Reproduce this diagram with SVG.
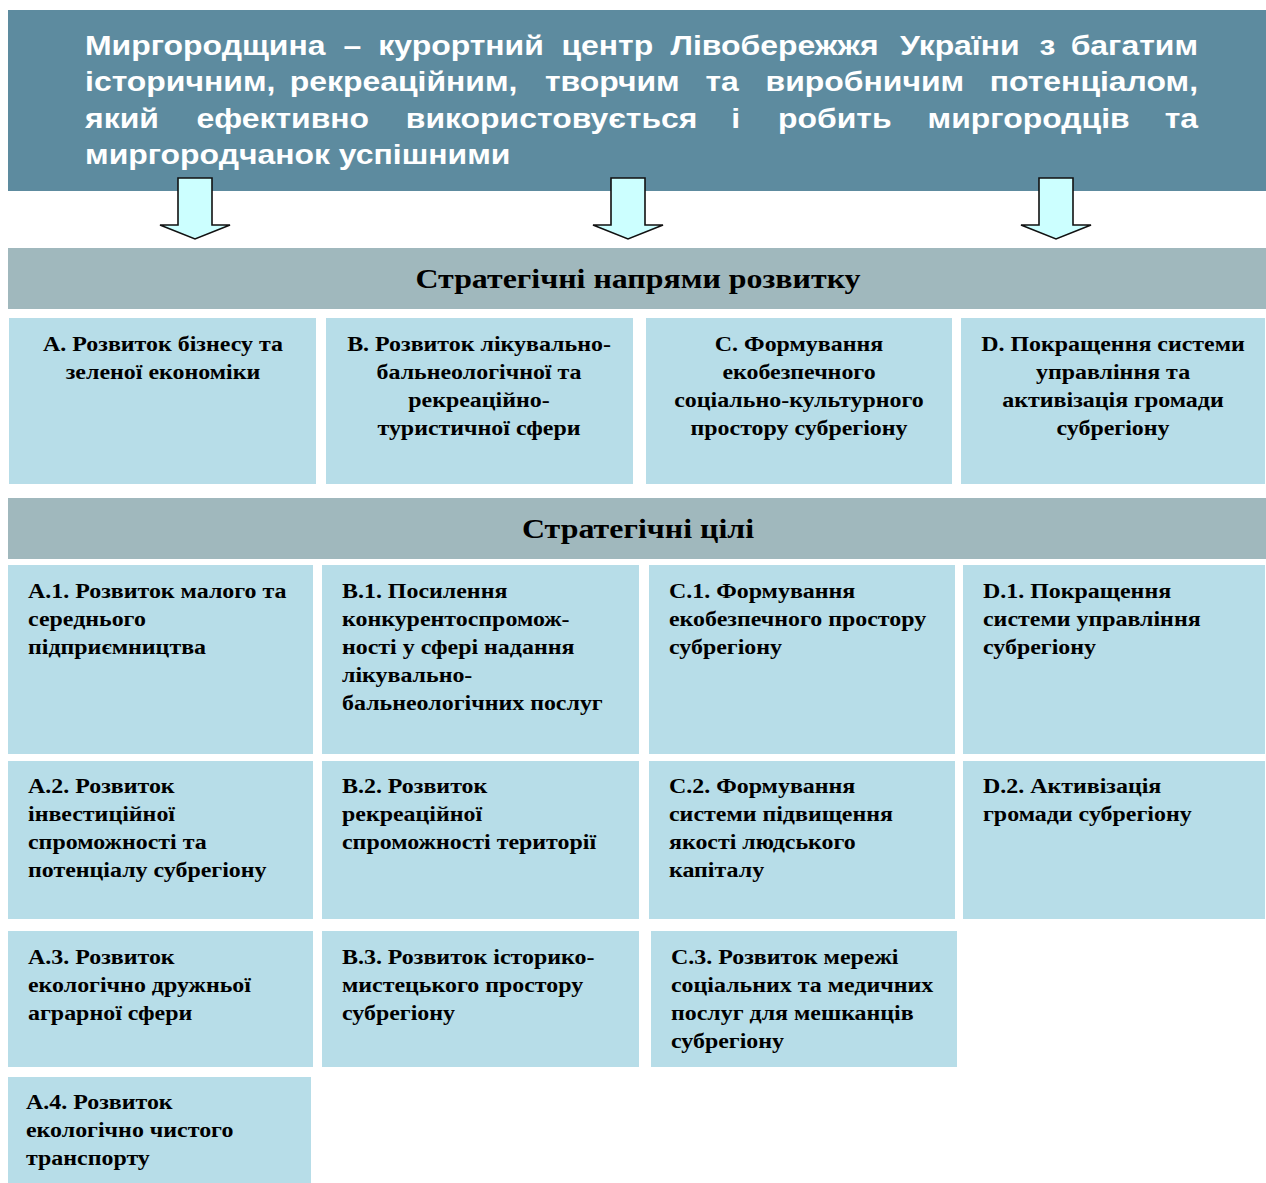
<svg xmlns="http://www.w3.org/2000/svg" width="1266" height="1183" viewBox="0 0 1266 1183">
<style>
.banner{fill:#5D8B9F}
.bar{fill:#A0B8BD}
.box{fill:#B7DDE8}
.arrow{fill:#CCFFFF;stroke:#111;stroke-width:1.6;stroke-linejoin:miter}
.vt{font-family:"Liberation Sans",Arial,sans-serif;font-weight:bold;font-size:28px;fill:#fff}
.ve{text-anchor:end}
.ht{font-family:"Liberation Serif","Times New Roman",serif;font-weight:bold;font-size:28px;fill:#000;text-anchor:middle}
.ct{font-family:"Liberation Serif","Times New Roman",serif;font-weight:bold;font-size:21px;fill:#000;text-anchor:middle}
.lt{font-family:"Liberation Serif","Times New Roman",serif;font-weight:bold;font-size:21px;fill:#000}
</style>
<rect width="1266" height="1183" fill="#fff"/>
<g id="vision">
<rect class="banner" x="8" y="10" width="1258" height="181"/>
<g transform="scale(1.14,1)">
<text class="vt" y="55"><tspan x="74.6">Миргородщина</tspan><tspan x="301.3">–</tspan><tspan x="331.9">курортний</tspan><tspan x="492.5">центр</tspan><tspan x="588.2">Лівобережжя</tspan><tspan x="789.5">України</tspan><tspan x="911.9">з</tspan></text>
<text class="vt ve" x="1050.9" y="55">багатим</text>
<text class="vt" y="91"><tspan x="74.6">історичним,</tspan><tspan x="254.2">рекреаційним,</tspan><tspan x="478.0">творчим</tspan><tspan x="618.8">та</tspan><tspan x="671.6">виробничим</tspan></text>
<text class="vt ve" x="1050.9" y="91">потенціалом,</text>
<text class="vt" y="128"><tspan x="74.6">який</tspan><tspan x="172.3">ефективно</tspan><tspan x="356.0">використовується</tspan><tspan x="641.4">і</tspan><tspan x="682.5">робить</tspan><tspan x="813.7">миргородців</tspan></text>
<text class="vt ve" x="1050.9" y="128">та</text>
<text class="vt" x="74.6" y="164">миргородчанок успішними</text>
</g>
</g>
<g id="connectors">
<polygon class="arrow" points="178,178 212,178 212,225 230,225 195,239 160,225 178,225"/>
<polygon class="arrow" points="611,178 645,178 645,225 663,225 628,239 593,225 611,225"/>
<polygon class="arrow" points="1039,178 1073,178 1073,225 1091,225 1056,239 1021,225 1039,225"/>
</g>
<g id="directions-header">
<rect class="bar" x="8" y="248" width="1258" height="61"/>
<text class="ht" transform="translate(638,288) scale(1.14,1)">Стратегічні напрями розвитку</text>
</g>
<g id="dir-A">
<rect class="box" x="9" y="318" width="307" height="166"/>
<g transform="translate(163,0) scale(1.14,1)">
<text class="ct" x="0" y="351">А. Розвиток бізнесу та</text>
<text class="ct" x="0" y="379">зеленої економіки</text>
</g>
</g>
<g id="dir-B">
<rect class="box" x="326" y="318" width="307" height="166"/>
<g transform="translate(479,0) scale(1.14,1)">
<text class="ct" x="0" y="351">В. Розвиток лікувально-</text>
<text class="ct" x="0" y="379">бальнеологічної та</text>
<text class="ct" x="0" y="407">рекреаційно-</text>
<text class="ct" x="0" y="435">туристичної сфери</text>
</g>
</g>
<g id="dir-C">
<rect class="box" x="646" y="318" width="306" height="166"/>
<g transform="translate(799,0) scale(1.14,1)">
<text class="ct" x="0" y="351">С. Формування</text>
<text class="ct" x="0" y="379">екобезпечного</text>
<text class="ct" x="0" y="407">соціально-культурного</text>
<text class="ct" x="0" y="435">простору субрегіону</text>
</g>
</g>
<g id="dir-D">
<rect class="box" x="961" y="318" width="304" height="166"/>
<g transform="translate(1113,0) scale(1.14,1)">
<text class="ct" x="0" y="351">D. Покращення системи</text>
<text class="ct" x="0" y="379">управління та</text>
<text class="ct" x="0" y="407">активізація громади</text>
<text class="ct" x="0" y="435">субрегіону</text>
</g>
</g>
<g id="goals-header">
<rect class="bar" x="8" y="498" width="1258" height="61"/>
<text class="ht" transform="translate(638,538) scale(1.14,1)">Стратегічні цілі</text>
</g>
<g id="goal-A1">
<rect class="box" x="8" y="565" width="305" height="189"/>
<g transform="translate(28,0) scale(1.14,1)">
<text class="lt" x="0" y="598">А.1. Розвиток малого та</text>
<text class="lt" x="0" y="626">середнього</text>
<text class="lt" x="0" y="654">підприємництва</text>
</g>
</g>
<g id="goal-B1">
<rect class="box" x="322" y="565" width="317" height="189"/>
<g transform="translate(342,0) scale(1.14,1)">
<text class="lt" x="0" y="598">В.1. Посилення</text>
<text class="lt" x="0" y="626">конкурентоспромож-</text>
<text class="lt" x="0" y="654">ності у сфері надання</text>
<text class="lt" x="0" y="682">лікувально-</text>
<text class="lt" x="0" y="710">бальнеологічних послуг</text>
</g>
</g>
<g id="goal-C1">
<rect class="box" x="649" y="565" width="306" height="189"/>
<g transform="translate(669,0) scale(1.14,1)">
<text class="lt" x="0" y="598">С.1. Формування</text>
<text class="lt" x="0" y="626">екобезпечного простору</text>
<text class="lt" x="0" y="654">субрегіону</text>
</g>
</g>
<g id="goal-D1">
<rect class="box" x="963" y="565" width="302" height="189"/>
<g transform="translate(983,0) scale(1.14,1)">
<text class="lt" x="0" y="598">D.1. Покращення</text>
<text class="lt" x="0" y="626">системи управління</text>
<text class="lt" x="0" y="654">субрегіону</text>
</g>
</g>
<g id="goal-A2">
<rect class="box" x="8" y="761" width="305" height="158"/>
<g transform="translate(28,0) scale(1.14,1)">
<text class="lt" x="0" y="793">А.2. Розвиток</text>
<text class="lt" x="0" y="821">інвестиційної</text>
<text class="lt" x="0" y="849">спроможності та</text>
<text class="lt" x="0" y="877">потенціалу субрегіону</text>
</g>
</g>
<g id="goal-B2">
<rect class="box" x="322" y="761" width="317" height="158"/>
<g transform="translate(342,0) scale(1.14,1)">
<text class="lt" x="0" y="793">В.2. Розвиток</text>
<text class="lt" x="0" y="821">рекреаційної</text>
<text class="lt" x="0" y="849">спроможності території</text>
</g>
</g>
<g id="goal-C2">
<rect class="box" x="649" y="761" width="306" height="158"/>
<g transform="translate(669,0) scale(1.14,1)">
<text class="lt" x="0" y="793">С.2. Формування</text>
<text class="lt" x="0" y="821">системи підвищення</text>
<text class="lt" x="0" y="849">якості людського</text>
<text class="lt" x="0" y="877">капіталу</text>
</g>
</g>
<g id="goal-D2">
<rect class="box" x="963" y="761" width="302" height="158"/>
<g transform="translate(983,0) scale(1.14,1)">
<text class="lt" x="0" y="793">D.2. Активізація</text>
<text class="lt" x="0" y="821">громади субрегіону</text>
</g>
</g>
<g id="goal-A3">
<rect class="box" x="8" y="931" width="305" height="136"/>
<g transform="translate(28,0) scale(1.14,1)">
<text class="lt" x="0" y="964">А.3. Розвиток</text>
<text class="lt" x="0" y="992">екологічно дружньої</text>
<text class="lt" x="0" y="1020">аграрної сфери</text>
</g>
</g>
<g id="goal-B3">
<rect class="box" x="322" y="931" width="317" height="136"/>
<g transform="translate(342,0) scale(1.14,1)">
<text class="lt" x="0" y="964">В.3. Розвиток історико-</text>
<text class="lt" x="0" y="992">мистецького простору</text>
<text class="lt" x="0" y="1020">субрегіону</text>
</g>
</g>
<g id="goal-C3">
<rect class="box" x="651" y="931" width="306" height="136"/>
<g transform="translate(671,0) scale(1.14,1)">
<text class="lt" x="0" y="964">С.3. Розвиток мережі</text>
<text class="lt" x="0" y="992">соціальних та медичних</text>
<text class="lt" x="0" y="1020">послуг для мешканців</text>
<text class="lt" x="0" y="1048">субрегіону</text>
</g>
</g>
<g id="goal-A4">
<rect class="box" x="8" y="1077" width="303" height="106"/>
<g transform="translate(26,0) scale(1.14,1)">
<text class="lt" x="0" y="1109">А.4. Розвиток</text>
<text class="lt" x="0" y="1137">екологічно чистого</text>
<text class="lt" x="0" y="1165">транспорту</text>
</g>
</g>
</svg>
